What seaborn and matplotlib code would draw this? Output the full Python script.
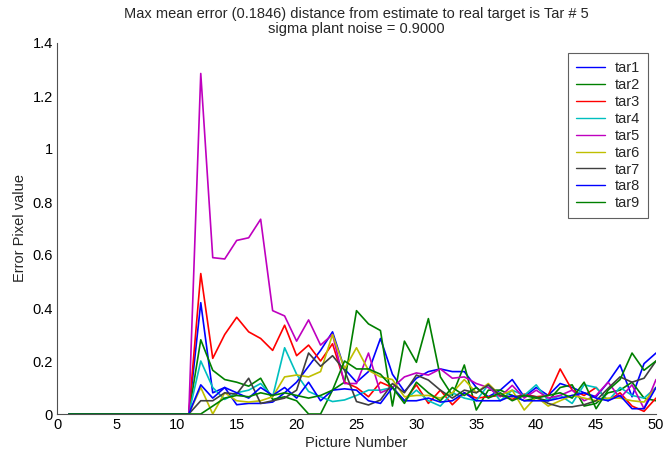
import numpy as np
import pandas as pd
import matplotlib
matplotlib.use("Agg")
import matplotlib.pyplot as plt
import seaborn as sns

pictures = list(range(1, 51))
zeros = [0.0] * 11

tar1 = zeros + [0.42, 0.08, 0.10, 0.035, 0.04, 0.04, 0.045, 0.08, 0.12, 0.18, 0.24, 0.31, 0.17, 0.12,
                0.16, 0.285, 0.15, 0.085, 0.135, 0.16, 0.17, 0.16, 0.16, 0.10, 0.065, 0.09, 0.13, 0.065,
                0.10, 0.07, 0.115, 0.10, 0.08, 0.065, 0.12, 0.185, 0.065, 0.19, 0.23]
tar2 = zeros + [0.28, 0.165, 0.13, 0.12, 0.105, 0.135, 0.055, 0.065, 0.05, 0.0, 0.0, 0.09, 0.12, 0.39,
                0.34, 0.315, 0.03, 0.275, 0.195, 0.36, 0.14, 0.07, 0.185, 0.015, 0.09, 0.09, 0.07, 0.05,
                0.06, 0.05, 0.10, 0.11, 0.03, 0.04, 0.08, 0.09, 0.12, 0.06, 0.05]
tar3 = zeros + [0.53, 0.21, 0.30, 0.365, 0.31, 0.285, 0.24, 0.335, 0.22, 0.26, 0.20, 0.265, 0.12, 0.10,
                0.065, 0.12, 0.10, 0.05, 0.11, 0.04, 0.09, 0.035, 0.08, 0.06, 0.065, 0.07, 0.055, 0.075,
                0.065, 0.07, 0.17, 0.09, 0.07, 0.10, 0.05, 0.08, 0.03, 0.01, 0.06]
tar4 = zeros + [0.20, 0.10, 0.055, 0.08, 0.09, 0.115, 0.065, 0.25, 0.15, 0.085, 0.065, 0.047, 0.053, 0.07,
                0.09, 0.09, 0.10, 0.05, 0.09, 0.05, 0.03, 0.08, 0.06, 0.05, 0.11, 0.05, 0.09, 0.07,
                0.11, 0.05, 0.07, 0.04, 0.11, 0.10, 0.05, 0.10, 0.07, 0.06, 0.10]
tar5 = zeros + [1.285, 0.59, 0.585, 0.655, 0.665, 0.735, 0.39, 0.37, 0.275, 0.355, 0.26, 0.30, 0.115, 0.115,
                0.23, 0.08, 0.10, 0.14, 0.155, 0.147, 0.17, 0.135, 0.14, 0.115, 0.10, 0.065, 0.108, 0.06,
                0.09, 0.06, 0.07, 0.09, 0.05, 0.07, 0.12, 0.06, 0.11, 0.02, 0.13]
tar6 = zeros + [0.10, 0.0, 0.08, 0.05, 0.045, 0.05, 0.065, 0.14, 0.147, 0.14, 0.16, 0.30, 0.17, 0.25,
                0.165, 0.14, 0.13, 0.065, 0.07, 0.07, 0.06, 0.08, 0.13, 0.08, 0.115, 0.07, 0.09, 0.015,
                0.065, 0.03, 0.05, 0.07, 0.06, 0.05, 0.06, 0.06, 0.05, 0.045, 0.10]
tar7 = zeros + [0.05, 0.05, 0.08, 0.075, 0.135, 0.04, 0.05, 0.06, 0.09, 0.23, 0.18, 0.22, 0.165, 0.047,
                0.034, 0.053, 0.115, 0.08, 0.147, 0.128, 0.09, 0.06, 0.09, 0.08, 0.11, 0.07, 0.065, 0.07,
                0.065, 0.04, 0.027, 0.027, 0.035, 0.05, 0.097, 0.14, 0.12, 0.135, 0.20]
tar8 = zeros + [0.11, 0.06, 0.10, 0.08, 0.06, 0.10, 0.07, 0.10, 0.06, 0.12, 0.05, 0.09, 0.095, 0.09,
                0.05, 0.04, 0.10, 0.05, 0.05, 0.06, 0.045, 0.05, 0.08, 0.05, 0.05, 0.05, 0.07, 0.05,
                0.05, 0.05, 0.06, 0.07, 0.08, 0.06, 0.05, 0.07, 0.02, 0.02, 0.10]
tar9 = zeros + [0.0, 0.03, 0.06, 0.07, 0.065, 0.08, 0.07, 0.08, 0.07, 0.06, 0.07, 0.09, 0.20, 0.17,
                0.17, 0.15, 0.10, 0.04, 0.12, 0.08, 0.05, 0.10, 0.07, 0.10, 0.06, 0.08, 0.05, 0.07,
                0.06, 0.07, 0.08, 0.06, 0.12, 0.02, 0.09, 0.13, 0.23, 0.165, 0.20]

names = ["tar1", "tar2", "tar3", "tar4", "tar5", "tar6", "tar7", "tar8", "tar9"]
series = [tar1, tar2, tar3, tar4, tar5, tar6, tar7, tar8, tar9]
colors = ["#0000ff", "#008000", "#ff0000", "#00bfbf", "#bf00bf", "#bfbf00", "#404040", "#0000ff", "#008000"]

df = pd.DataFrame({
    "Picture": np.tile(pictures, len(names)),
    "err": np.concatenate([np.array(s, dtype=float) for s in series]),
    "target": np.repeat(names, len(pictures)),
})

sns.set_theme(style="white")
plt.rcParams["font.family"] = ["Liberation Sans", "DejaVu Sans"]

fig = plt.figure(figsize=(6.65, 4.61), dpi=100)
ax = fig.add_axes([57 / 665, 1 - 414 / 461, (656 - 57) / 665, (414 - 43) / 461])

sns.lineplot(data=df, x="Picture", y="err", hue="target", palette=colors,
             hue_order=names, linewidth=1.2, ax=ax, legend=True, estimator=None)

ax.set_xlim(0, 50)
ax.set_ylim(0, 1.4)
ax.set_xticks(range(0, 51, 5))
yt = [0, 0.2, 0.4, 0.6, 0.8, 1.0, 1.2, 1.4]
ax.set_yticks(yt)
ax.set_yticklabels(["0", "0.2", "0.4", "0.6", "0.8", "1", "1.2", "1.4"])
ax.tick_params(direction="in", length=4, width=0.8, colors="#303030", labelsize=10.5,
               labelcolor="black", pad=3)
for s in ["top", "right"]:
    ax.spines[s].set_visible(False)
for s in ["left", "bottom"]:
    ax.spines[s].set_color("#505050")
    ax.spines[s].set_linewidth(0.8)

ax.set_xlabel("Picture Number", fontsize=10.5, labelpad=3)
ax.set_ylabel("Error Pixel value", fontsize=10.5, labelpad=4)
ax.set_title("Max mean error (0.1846) distance from estimate to real target is Tar # 5\n"
             "sigma plant noise = 0.9000", fontsize=10.5, pad=7, linespacing=1.1)

handles, labels = ax.get_legend_handles_labels()
leg = ax.legend(handles, labels, loc="upper right", bbox_to_anchor=(0.987, 0.973),
                borderaxespad=0, fontsize=10.5, frameon=True, fancybox=False, framealpha=1,
                edgecolor="#606060", handlelength=2.0, handletextpad=0.7,
                labelspacing=0.2, borderpad=0.55, title=None)
leg.get_frame().set_linewidth(0.8)
for h in leg.get_lines():
    h.set_linewidth(1.0)

fig.savefig("out.png", dpi=100)
